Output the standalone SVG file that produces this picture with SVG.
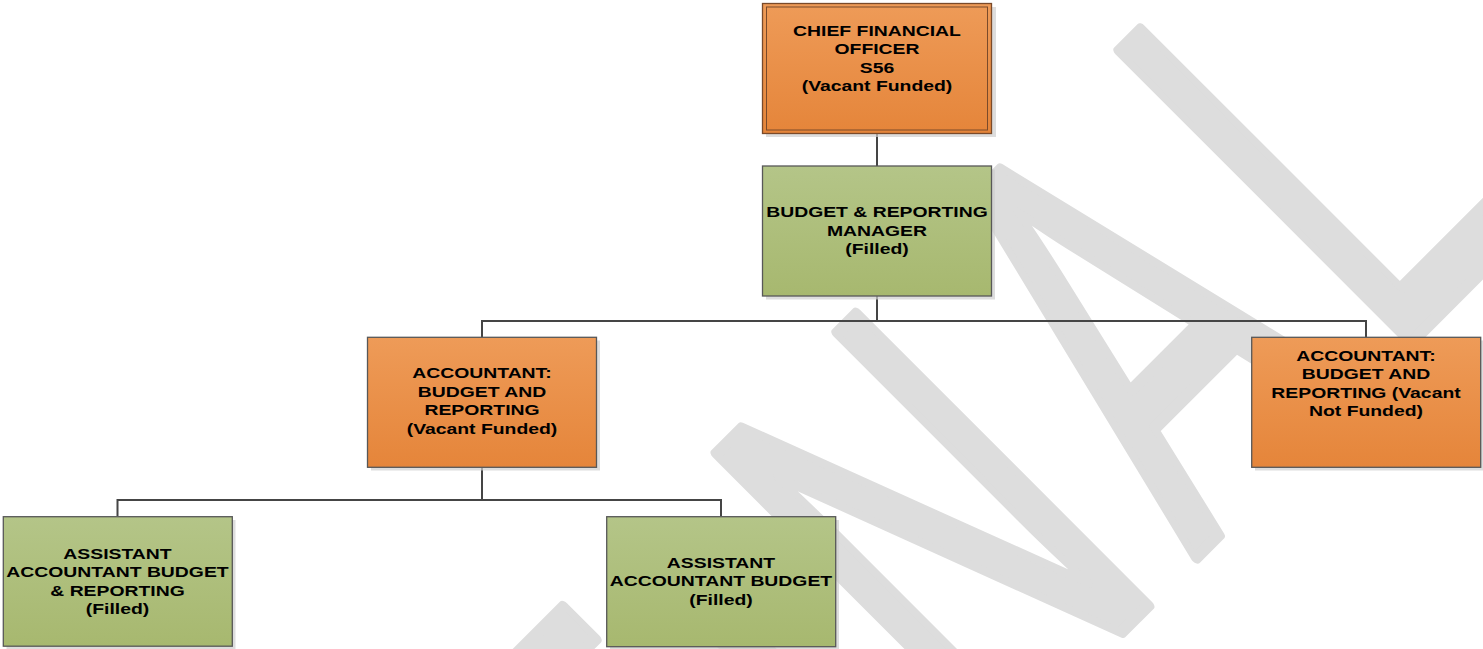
<svg xmlns="http://www.w3.org/2000/svg" width="1483" height="649" viewBox="0 0 1483 649">
<defs>
<linearGradient id="gOrange" x1="0" y1="0" x2="0" y2="1">
<stop offset="0" stop-color="#EE9B58"/>
<stop offset="1" stop-color="#E5853A"/>
</linearGradient>
<linearGradient id="gGreen" x1="0" y1="0" x2="0" y2="1">
<stop offset="0" stop-color="#B4C588"/>
<stop offset="1" stop-color="#A7B86F"/>
</linearGradient>
</defs>
<style>
.box{stroke:#585858;stroke-width:1.3}
.orange{fill:url(#gOrange)}
.green{fill:url(#gGreen)}
.shadow{fill:#cfcfcf;opacity:0.7}
.t{font-family:"Liberation Sans",Arial,sans-serif;font-weight:bold;font-size:15.5px;fill:#000;text-anchor:middle}
.conn{stroke:#454545;stroke-width:2;fill:none}
.wm{font-family:"Liberation Sans",Arial,sans-serif;font-size:600px;fill:#dddddd;stroke:#dddddd;stroke-width:10;stroke-linejoin:round}
</style>
<rect width="1483" height="649" fill="#ffffff"/>
<g id="watermark">
<text class="wm" x="0" y="0" letter-spacing="58" vector-effect="non-scaling-stroke" transform="translate(711,1043) rotate(-45) scale(0.6,1)">FINAL</text>
</g>
<g id="connectors">
<path class="conn" d="M877,133 V166"/>
<path class="conn" d="M877,296 V321 M482,337 V321 H1366 V337"/>
<path class="conn" d="M482,467 V500 M117.5,516 V500 H721 V516"/>
</g>
<g id="cfo">
<rect class="shadow" x="766" y="7" width="230" height="130"/>
<rect class="orange" x="762.5" y="3.5" width="229" height="130" stroke="#7a4a2a" stroke-width="1.3"/>
<rect x="766.5" y="7" width="221" height="123" fill="none" stroke="#7a4a2a" stroke-width="1"/>
<g transform="translate(877,0) scale(1.25,1)">
<text class="t" x="0" y="36">CHIEF FINANCIAL</text>
<text class="t" x="0" y="54.5">OFFICER</text>
<text class="t" x="0" y="73">S56</text>
<text class="t" x="0" y="91.5"> (Vacant Funded)</text>
</g>
</g>
<g id="manager">
<rect class="shadow" x="766" y="169.5" width="229" height="130"/>
<rect class="box green" x="762.5" y="166" width="229" height="130"/>
<g transform="translate(877,0) scale(1.25,1)">
<text class="t" x="0" y="217.5">BUDGET &amp; REPORTING</text>
<text class="t" x="0" y="236">MANAGER</text>
<text class="t" x="0" y="254.5">(Filled)</text>
</g>
</g>
<g id="accountant-funded">
<rect class="shadow" x="371" y="340.5" width="229" height="130"/>
<rect class="box orange" x="367.5" y="337.3" width="229" height="130"/>
<g transform="translate(482,0) scale(1.25,1)">
<text class="t" x="0" y="378.5">ACCOUNTANT:</text>
<text class="t" x="0" y="397">BUDGET AND</text>
<text class="t" x="0" y="415.5">REPORTING</text>
<text class="t" x="0" y="434">(Vacant Funded)</text>
</g>
</g>
<g id="accountant-not-funded">
<rect class="shadow" x="1255" y="340.5" width="229" height="130"/>
<rect class="box orange" x="1251.7" y="337.3" width="229" height="130"/>
<g transform="translate(1366,0) scale(1.25,1)">
<text class="t" x="0" y="361">ACCOUNTANT:</text>
<text class="t" x="0" y="379.5">BUDGET AND</text>
<text class="t" x="0" y="398">REPORTING (Vacant</text>
<text class="t" x="0" y="416.5">Not Funded)</text>
</g>
</g>
<g id="assistant-budget-reporting">
<rect class="shadow" x="6.5" y="520" width="229" height="130"/>
<rect class="box green" x="3.3" y="516.7" width="229" height="129.5"/>
<g transform="translate(117.5,0) scale(1.25,1)">
<text class="t" x="0" y="559.5">ASSISTANT</text>
<text class="t" x="0" y="577.5">ACCOUNTANT BUDGET</text>
<text class="t" x="0" y="596">&amp; REPORTING</text>
<text class="t" x="0" y="614">(Filled)</text>
</g>
</g>
<g id="assistant-budget">
<rect class="shadow" x="610" y="520" width="229" height="130"/>
<rect class="box green" x="606.7" y="516.7" width="229" height="130"/>
<g transform="translate(721,0) scale(1.25,1)">
<text class="t" x="0" y="568">ASSISTANT</text>
<text class="t" x="0" y="586.5">ACCOUNTANT BUDGET</text>
<text class="t" x="0" y="605">(Filled)</text>
</g>
</g>
</svg>
